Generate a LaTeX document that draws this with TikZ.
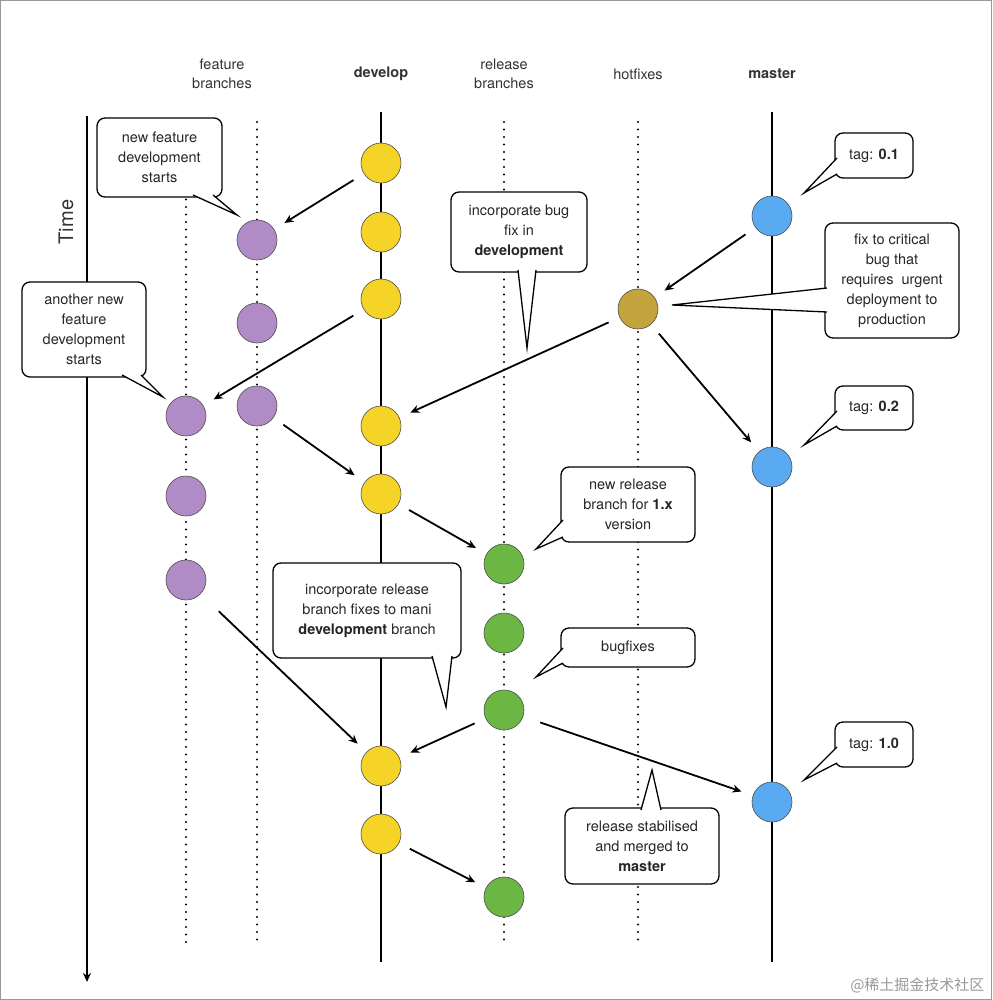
\documentclass[tikz,border=0pt]{standalone}
\usepackage{fontspec}
\setmainfont{TeX Gyre Heros}
\newfontfamily\cjk{Noto Sans CJK SC}
\usetikzlibrary{arrows.meta}
\definecolor{cyel}{HTML}{F5D327}
\definecolor{cpur}{HTML}{B08BC6}
\definecolor{cgrn}{HTML}{6CB644}
\definecolor{cblu}{HTML}{5AAAF2}
\definecolor{colv}{HTML}{C4A43C}
\newcommand{\mycallout}[9]{%
 \draw[line width=1.3pt,rounded corners=8pt,fill=white] (#1,#2) rectangle (#3,#4);
 \fill[white] #5 -- #7 -- #6 -- cycle;
 \draw[line width=1.3pt,line join=miter] #5 -- #7 -- #6;
 \node[txt] (#8) at ({(#1+#3)/2},{(#2+#4)/2}) {#9};}
\begin{document}
\begin{tikzpicture}[x=1pt,y=-1pt,
 cn/.style={circle,minimum size=40pt,inner sep=0pt,draw=black!70,line width=0.6pt},
 dev/.style={cn,fill=cyel},fea/.style={cn,fill=cpur},rel/.style={cn,fill=cgrn},
 mas/.style={cn,fill=cblu},hot/.style={cn,fill=colv},
 arr/.style={-{Stealth[length=9pt,width=8pt]},line width=1.8pt,shorten >=12pt,shorten <=12pt},
 dot/.style={line width=2.2pt,dash pattern=on 0pt off 7.5pt,line cap=round},
 lane/.style={line width=1.6pt},
 txt/.style={align=center,font=\fontsize{14.5}{20}\selectfont,text=black!85},
 hd/.style={align=center,font=\fontsize{14.5}{19}\selectfont,text=black!80}]
\useasboundingbox (0,0) rectangle (992,1000);
\draw[black!40,line width=1pt] (0.5,0.5) rectangle (991.5,999.5);
% headers
\node[hd] (h1) at (222,74) {feature\\branches};
\node[hd] (h2) at (381,74) {\textbf{develop}};
\node[hd] (h3) at (504,74) {release\\branches};
\node[hd] (h4) at (638,74) {hotfixes};
\node[hd] (h5) at (772,74) {\textbf{master}};
% time
\coordinate (t1) at (87,116); \coordinate (t2) at (87,982);
\draw[line width=1.8pt,-{Stealth[length=9pt,width=8pt]}] (t1) -- (t2);
\node[rotate=90,font=\fontsize{20}{24}\selectfont,text=black!80] (time) at (66,222) {Time};
% lanes
\coordinate (f1a) at (186,192); \coordinate (f1b) at (186,945);
\coordinate (f2a) at (257,122); \coordinate (f2b) at (257,945);
\coordinate (ra) at (504,122); \coordinate (rb) at (504,945);
\coordinate (ha) at (638,122); \coordinate (hb) at (638,945);
\coordinate (da) at (381,112); \coordinate (db) at (381,962);
\coordinate (ma) at (772,112); \coordinate (mb) at (772,962);
\draw[dot] (f1a) -- (f1b); \draw[dot] (f2a) -- (f2b);
\draw[dot] (ra) -- (rb); \draw[dot] (ha) -- (hb);
\draw[lane] (da) -- (db); \draw[lane] (ma) -- (mb);
% nodes
\node[dev] (d1) at (381,163) {}; \node[dev] (d2) at (381,232) {};
\node[dev] (d3) at (381,299) {}; \node[dev] (d4) at (381,426) {};
\node[dev] (d5) at (381,494) {}; \node[dev] (d6) at (381,766) {};
\node[dev] (d7) at (381,834) {};
\node[fea] (fa1) at (257,240) {}; \node[fea] (fa2) at (257,323) {};
\node[fea] (fa3) at (257,406) {};
\node[fea] (fb1) at (186,416) {}; \node[fea] (fb2) at (186,496) {};
\node[fea] (fb3) at (186,580) {};
\node[rel] (r1) at (504,564) {}; \node[rel] (r2) at (504,633) {};
\node[rel] (r3) at (504,710) {}; \node[rel] (r4) at (504,897) {};
\node[hot] (hf) at (638,309) {};
\node[mas] (m1) at (772,216) {}; \node[mas] (m2) at (772,467) {};
\node[mas] (m3) at (772,802) {};
% arrows
\draw[arr] (d1) -- (fa1);
\draw[arr] (d3) -- (fb1);
\draw[arr] (hf) -- (d4);
\draw[arr] (m1) -- (hf);
\draw[arr] (hf) -- (m2);
\draw[arr] (fa3) -- (d5);
\draw[arr] (d5) -- (r1);
\draw[arr,shorten <=25pt] (fb3) -- (d6);
\draw[arr] (r3) -- (d6);
\draw[arr,shorten <=18pt] (r3) -- (m3);
\draw[arr] (d7) -- (r4);
% callouts
\mycallout{97}{118}{222}{197}{(193,195)}{(213,195)}{(237,215)}{c1}{new feature\\development\\starts}
\mycallout{22}{282}{146}{377}{(122,375)}{(141,375)}{(163,397)}{c2}{another new\\feature\\development\\starts}
\mycallout{451}{192}{587}{272}{(518,270)}{(536,270)}{(527,348)}{c3}{incorporate bug\\fix in\\\textbf{development}}
\mycallout{825}{223}{959}{338}{(827,288)}{(827,312)}{(672,305)}{c4}{fix to critical\\bug that\\requires\ \ urgent\\deployment to\\production}
\mycallout{835}{133}{913}{178}{(837,158)}{(837,174)}{(804,193)}{c5}{tag: \textbf{0.1}}
\mycallout{835}{386}{913}{430}{(837,411)}{(837,426)}{(804,445)}{c6}{tag: \textbf{0.2}}
\mycallout{835}{722}{913}{767}{(837,747)}{(837,763)}{(804,780)}{c7}{tag: \textbf{1.0}}
\mycallout{561}{467}{695}{542}{(563,520)}{(563,537)}{(536,549)}{c8}{new release\\branch for \textbf{1.x}\\version}
\mycallout{561}{628}{695}{667}{(563,648)}{(563,663)}{(536,677)}{c9}{bugfixes}
\mycallout{273}{563}{461}{658}{(432,656)}{(452,656)}{(446,707)}{c10}{incorporate release\\branch fixes to mani\\\textbf{development} branch}
\mycallout{565}{808}{719}{884}{(641,810)}{(661,810)}{(652,770)}{c11}{release stabilised\\and merged to\\\textbf{master}}
\node[text=black!40,font=\cjk\fontsize{15}{18}\selectfont,anchor=east] (wm) at (988,985) {@稀土掘金技术社区};
\end{tikzpicture}
\end{document}
